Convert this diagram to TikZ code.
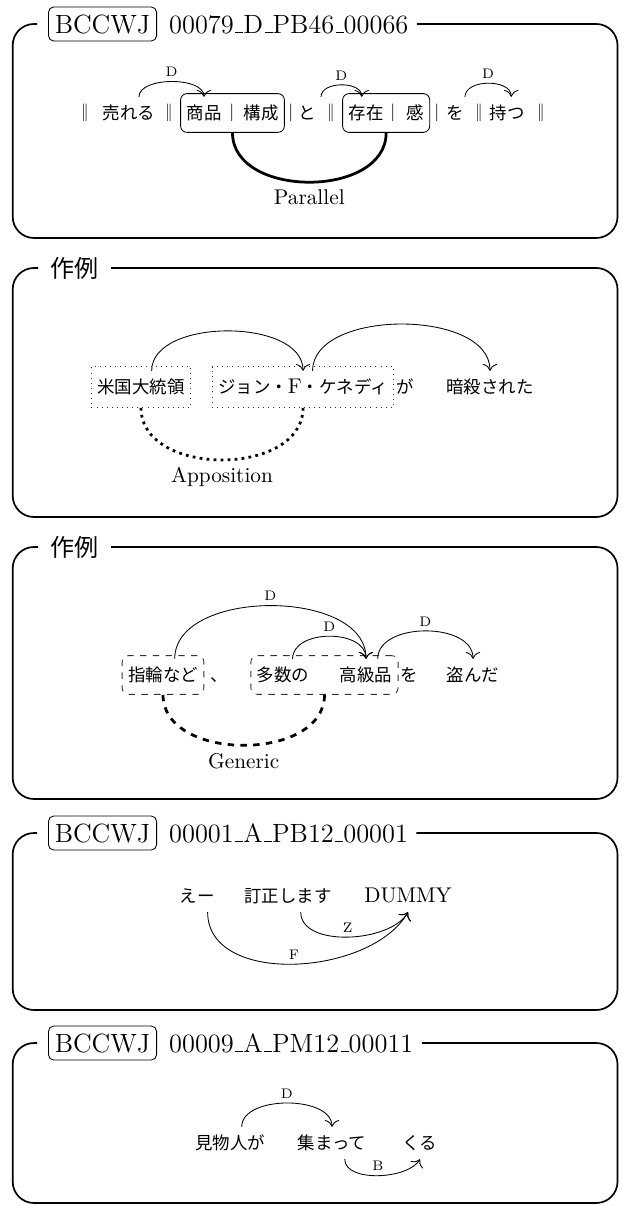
\documentclass[tikz,border=0pt]{standalone}
\usepackage{fontspec}
\usetikzlibrary{arrows.meta,positioning,calc,fit}
\newfontfamily\jp[Scale=0.82]{Noto Sans CJK JP}
\newcommand\idsep{\leavevmode\kern.06em\vbox{\hrule width.3em}}
\tikzset{
  frame/.style={thick,rounded corners=10pt},
  tagbox/.style={draw,rounded corners=2.5pt,inner xsep=3pt,inner ysep=3.5pt,font=\fontsize{12.4}{14}\selectfont},
  idtext/.style={inner sep=0pt,font=\fontsize{12.4}{14}\selectfont},
  jtitle/.style={inner sep=0pt,font=\fontsize{13.8}{16}\selectfont\jp},
  tok/.style={inner xsep=1pt,inner ysep=3.3pt,text height=7.2pt,text depth=1pt},
  jtok/.style={tok,font=\jp},
  dep/.style={-{To[scale=1.3]}},
  deplab/.style={inner sep=2pt,font=\fontsize{6.5}{7}\selectfont},
  solidbox/.style={draw,rounded corners=3pt,inner xsep=1.6pt,inner ysep=1.5pt},
  dotbox/.style={draw=black!80,dotted,inner xsep=1.6pt,inner ysep=2pt},
  dashbox/.style={draw=black!80,dashed,rounded corners=3pt,inner xsep=1.6pt,inner ysep=1.5pt},
  rel/.style={line width=1.3pt},
  rellab/.style={inner sep=3pt}
}
\begin{document}
\begin{tikzpicture}[x=0.47pt,y=-0.47pt]
  \useasboundingbox (0,0) rectangle (621,1206);
  % BCCWJ 00079_D_PB46_00066 : Parallel
  \node[tagbox,anchor=west] (p1tag) at (48,24) {BCCWJ};
  \node[idtext,base right=5.5pt of p1tag] (p1id) {00079\idsep D\idsep PB46\idsep 00066};
  \draw[frame] ($(p1id.east |- 0,24)+(8,0)$) -- (617.5,24) -- (617.5,238) -- (12.7,238) -- (12.7,24) -- ($(p1tag.west |- 0,24)+(-11,0)$);
  \node[jtok] (p1s1) at (85,113) {‖}; \node[jtok] (ureru) at (129,113) {売れる};
  \node[jtok] (p1s2) at (169,113) {‖}; \node[jtok] (shohin) at (204,113) {商品};
  \node[jtok] (p1s3) at (232,113) {｜}; \node[jtok] (kousei) at (261,113) {構成};
  \node[jtok] (p1s4) at (291,113) {｜}; \node[jtok] (toP) at (307,113) {と};
  \node[jtok] (p1s5) at (331,113) {‖}; \node[jtok] (sonzai) at (366,113) {存在};
  \node[jtok] (p1s6) at (393,113) {｜}; \node[jtok] (kan) at (415,113) {感};
  \node[jtok] (p1s7) at (437,113) {｜}; \node[jtok] (wo) at (455,113) {を};
  \node[jtok] (p1s8) at (479,113) {‖}; \node[jtok] (motsu) at (507,113) {持つ};
  \node[jtok] (p1s9) at (541,113) {‖};
  \node[solidbox,fit=(shohin)(kousei)] (para1) {};
  \node[solidbox,fit=(sonzai)(kan)] (para2) {};
  \draw[dep] ([xshift=4.7pt]ureru.north) to[out=90,in=90,looseness=0.8] node[deplab,above] (p1d1) {D} (shohin.north);
  \draw[dep] ([xshift=6.6pt]toP.north) to[out=90,in=90] node[deplab,above] (p1d2) {D} ([xshift=-2pt]sonzai.north);
  \draw[dep] ([xshift=4.7pt]wo.north) to[out=90,in=90] node[deplab,above] (p1d3) {D} ([xshift=2pt]motsu.north);
  \draw[rel] (para1.south) to[out=-90,in=-90,looseness=1.1] node[rellab,below] (parl) {Parallel} (para2.south);

  % sakurei : Apposition
  \node[jtitle,anchor=west] (p2ttl) at (50,268) {作例};
  \draw[frame] ($(p2ttl.east |- 0,268)+(12,0)$) -- (617.5,268) -- (617.5,517) -- (12.7,517) -- (12.7,268) -- ($(p2ttl.west |- 0,268)+(-12,0)$);
  \node[jtok] (beikoku) at (141,387) {米国大統領};
  \node[tok] (jfk) at (303,387) {{\jp ジョン・}F{\jp ・ケネディ}};
  \node[jtok] (ga) at (405,387) {が};
  \node[jtok] (ansatsu) at (490,387) {暗殺された};
  \node[dotbox,fit=(beikoku)] (app1) {};
  \node[dotbox,fit=(jfk)] (app2) {};
  \draw[dep] ([xshift=5pt]beikoku.north) to[out=90,in=90,looseness=0.9] (jfk.north);
  \draw[dep] ([xshift=4.5pt]jfk.north) to[out=90,in=90,looseness=0.9] (ansatsu.north);
  \draw[rel,dotted] (app1.south) to[out=-90,in=-90,looseness=1.1] node[rellab,below] (appl) {Apposition} (app2.south);

  % sakurei : Generic
  \node[jtitle,anchor=west] (p3ttl) at (50,547) {作例};
  \draw[frame] ($(p3ttl.east |- 0,547)+(12,0)$) -- (617.5,547) -- (617.5,799) -- (12.7,799) -- (12.7,547) -- ($(p3ttl.west |- 0,547)+(-12,0)$);
  \node[jtok] (shiwa) at (163,675) {指輪など};
  \node[jtok] (touten) at (219,675) {、};
  \node[jtok] (tasuu) at (283,675) {多数の};
  \node[jtok] (koukyu) at (366,675) {高級品};
  \node[jtok] (wo2) at (409,675) {を};
  \node[jtok] (nusunda) at (473,675) {盗んだ};
  \node[dashbox,fit=(shiwa)] (gen1) {};
  \node[dashbox,fit=(tasuu)(koukyu)] (gen2) {};
  \draw[dep] ([xshift=5.5pt]shiwa.north) to[out=90,in=90,looseness=0.95] node[deplab,above] (p3d1) {D} (koukyu.north);
  \draw[dep] ([xshift=4.5pt]tasuu.north) to[out=90,in=90,looseness=1.05] node[deplab,above] (p3d2) {D} (koukyu.north);
  \draw[dep] ([xshift=5.5pt]koukyu.north) to[out=90,in=90] node[deplab,above] (p3d3) {D} (nusunda.north);
  \draw[rel,dashed] (gen1.south) to[out=-90,in=-90,looseness=1.07] node[rellab,below] (genl) {Generic} (gen2.south);

  % BCCWJ 00001_A_PB12_00001
  \node[tagbox,anchor=west] (p4tag) at (48,833) {BCCWJ};
  \node[idtext,base right=5.5pt of p4tag] (p4id) {00001\idsep A\idsep PB12\idsep 00001};
  \draw[frame] ($(p4id.east |- 0,833)+(8,0)$) -- (617.5,833) -- (617.5,1010) -- (12.7,1010) -- (12.7,833) -- ($(p4tag.west |- 0,833)+(-11,0)$);
  \node[jtok] (ee) at (197,896) {えー};
  \node[jtok] (teisei) at (288,896) {訂正します};
  \node[tok] (dummy) at (408,896) {DUMMY};
  \draw[dep] ([xshift=5pt]ee.south) to[out=-90,in=-120,looseness=0.95] node[deplab,above] (p4f) {F} (dummy.south);
  \draw[dep] ([xshift=6pt]teisei.south) to[out=-90,in=-120,looseness=0.85] node[deplab,above] (p4z) {Z} (dummy.south);

  % BCCWJ 00009_A_PM12_00011
  \node[tagbox,anchor=west] (p5tag) at (48,1043) {BCCWJ};
  \node[idtext,base right=5.5pt of p5tag] (p5id) {00009\idsep A\idsep PM12\idsep 00011};
  \draw[frame] ($(p5id.east |- 0,1043)+(8,0)$) -- (617.5,1043) -- (617.5,1203) -- (12.7,1203) -- (12.7,1043) -- ($(p5tag.west |- 0,1043)+(-11,0)$);
  \node[jtok] (kenbutsu) at (230,1143) {見物人が};
  \node[jtok] (atsumatte) at (332,1143) {集まって};
  \node[jtok] (kuru) at (420,1143) {くる};
  \draw[dep] ([xshift=5.5pt]kenbutsu.north) to[out=90,in=90,looseness=0.9] node[deplab,above] (p5d) {D} (atsumatte.north);
  \draw[dep] ([xshift=6pt]atsumatte.south) to[out=-90,in=-120,looseness=0.8] node[deplab,above] (p5b) {B} (kuru.south);
\end{tikzpicture}
\end{document}
